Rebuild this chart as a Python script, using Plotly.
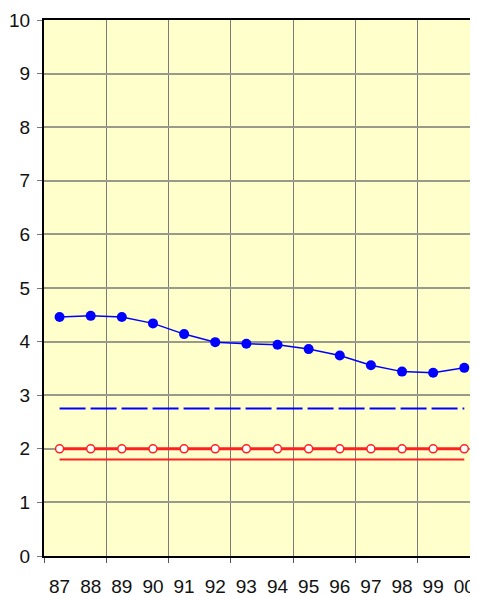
import plotly.graph_objects as go

years = ["87", "88", "89", "90", "91", "92", "93", "94", "95", "96", "97", "98", "99", "00"]
blue_values = [4.46, 4.48, 4.46, 4.34, 4.14, 3.99, 3.96, 3.94, 3.86, 3.74, 3.56, 3.44, 3.42, 3.51]
blue_dashed_level = [2.75] * len(years)
red_marked_level = [2.0] * len(years)
red_plain_level = [1.8] * len(years)
y_ticks = list(range(0, 11))

xi = list(range(len(years)))

fig = go.Figure()
fig.add_trace(go.Scatter(x=xi, y=blue_dashed_level, mode="lines",
                         line=dict(color="#0000FF", width=2, dash="26px,5px"), hoverinfo="skip"))
fig.add_trace(go.Scatter(x=xi, y=red_plain_level, mode="lines",
                         line=dict(color="#FF2020", width=2), hoverinfo="skip"))
fig.add_trace(go.Scatter(x=xi, y=red_marked_level, mode="lines+markers",
                         line=dict(color="#FF2020", width=3),
                         marker=dict(size=8, color="white", line=dict(color="#FF2020", width=1.5))))
fig.add_trace(go.Scatter(x=xi, y=blue_values, mode="lines+markers",
                         line=dict(color="#0000FF", width=1.5),
                         marker=dict(size=10, color="#0000FF")))

font = dict(family="Liberation Sans, Arial", size=19, color="#111111")

# page body has an 8px margin, so the figure is 8px smaller than the window
fig.update_layout(
    width=470, height=588,
    margin=dict(l=36, r=0, t=12, b=40),
    paper_bgcolor="white", plot_bgcolor="#FFFFCC",
    showlegend=False,
    font=font,
    xaxis=dict(
        range=[-0.5, 13.44], automargin=False,
        tickvals=xi, ticktext=years, ticks="", showgrid=False,
        showline=True, linecolor="black", linewidth=2, mirror=True,
        ticklabelstandoff=12,
        zeroline=False,
        minor=dict(tickvals=[-0.5 + 2 * k for k in range(8)], ticks="outside", ticklen=5,
                   tickcolor="#555555", showgrid=True, gridcolor="#7a7a7a", gridwidth=1),
    ),
    yaxis=dict(
        range=[0, 10], automargin=False, tickvals=y_ticks, ticks="outside", ticklen=5, tickcolor="#777777",
        showgrid=True, gridcolor="#9a9a8a", gridwidth=2,
        showline=True, linecolor="black", linewidth=2,
        zeroline=False, ticklabelstandoff=3,
    ),
)

fig.write_html("out.html")
